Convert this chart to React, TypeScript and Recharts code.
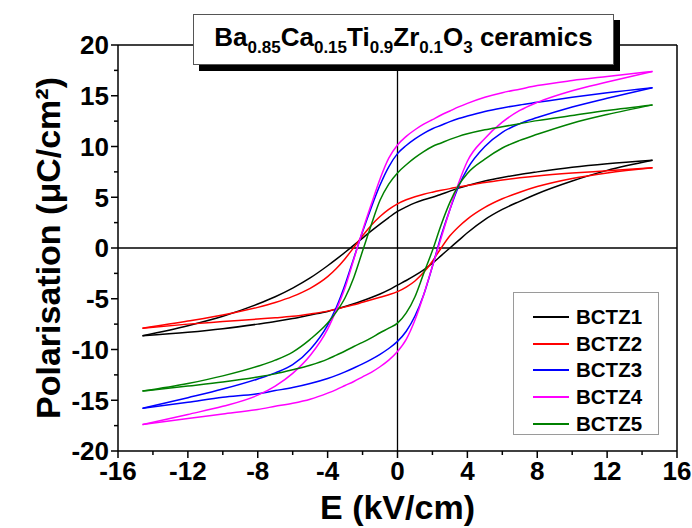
import React from "react";
import { LineChart, Line, XAxis, YAxis, ReferenceLine } from "recharts";

// electric field grid (kV/cm), shared by every branch
const FIELD = [
	-14.6, -12, -10, -8, -7, -6, -5, -4, -3.5, -3, -2.5, -2, -1.5, -1, -0.5, 0, 0.5, 1, 1.5, 2, 2.5, 3, 3.5, 4, 5, 6,
	7, 8, 10, 12, 14.6,
];

// polarisation (µC/cm²) on the descending-field (upper) and ascending-field (lower) branches
const BCTZ1_UPPER = [
	-8.65, -7.65, -6.72, -5.52, -4.8, -3.95, -2.95, -1.75, -1.1, -0.42, 0.28, 0.98, 1.68, 2.35, 3.0, 3.6, 4.05, 4.45,
	4.75, 5.0, 5.3, 5.6, 5.9, 6.15, 6.6, 6.95, 7.25, 7.5, 7.95, 8.3, 8.65,
];
const BCTZ1_LOWER = [
	-8.65, -8.3, -7.95, -7.5, -7.25, -6.95, -6.6, -6.25, -6.02, -5.77, -5.5, -5.2, -4.88, -4.53, -4.12, -3.65, -3.2,
	-2.7, -2.15, -1.5, -0.75, 0.0, 0.75, 1.5, 2.8, 3.8, 4.6, 5.35, 6.6, 7.65, 8.65,
];
const BCTZ2_UPPER = [
	-7.9, -7.2, -6.6, -5.85, -5.37, -4.77, -3.97, -2.82, -2.02, -1.05, 0.05, 1.2, 2.25, 3.1, 3.8, 4.35, 4.75, 5.05,
	5.3, 5.5, 5.68, 5.85, 6.0, 6.15, 6.45, 6.7, 6.92, 7.1, 7.38, 7.6, 7.9,
];
const BCTZ2_LOWER = [
	-7.9, -7.5, -7.25, -7.0, -6.88, -6.73, -6.5, -6.22, -6.02, -5.8, -5.6, -5.35, -5.1, -4.85, -4.6, -4.3, -3.85, -3.25,
	-2.4, -1.3, 0.0, 1.2, 2.1, 2.85, 4.0, 4.85, 5.5, 6.05, 6.85, 7.4, 7.9,
];
const BCTZ3_UPPER = [
	-15.8, -14.75, -13.9, -12.9, -12.3, -11.5, -10.0, -7.6, -5.85, -3.6, -1.0, 1.6, 4.0, 6.2, 8.0, 9.3, 10.1, 10.75,
	11.3, 11.75, 12.1, 12.45, 12.75, 13.0, 13.45, 13.8, 14.1, 14.35, 14.85, 15.3, 15.8,
];
const BCTZ3_LOWER = [
	-15.8, -15.2, -14.7, -14.35, -14.05, -13.75, -13.35, -12.85, -12.55, -12.2, -11.82, -11.42, -10.97, -10.47, -9.9,
	-9.2, -8.2, -6.7, -4.6, -1.8, 1.2, 3.8, 6.1, 7.8, 10.0, 11.4, 12.25, 12.85, 13.9, 14.75, 15.8,
];
const BCTZ4_UPPER = [
	-17.4, -16.4, -15.6, -14.5, -13.6, -12.35, -10.6, -8.0, -6.1, -3.9, -1.1, 1.7, 4.3, 6.8, 8.85, 10.15, 11.0, 11.65,
	12.2, 12.65, 13.1, 13.5, 13.9, 14.25, 14.85, 15.3, 15.65, 16.0, 16.5, 16.9, 17.4,
];
const BCTZ4_LOWER = [
	-17.4, -16.8, -16.35, -15.9, -15.6, -15.3, -14.9, -14.3, -13.95, -13.55, -13.15, -12.7, -12.25, -11.7, -11.05,
	-10.2, -9.0, -7.1, -4.6, -1.8, 1.0, 3.8, 6.4, 8.55, 10.8, 12.4, 13.55, 14.35, 15.5, 16.35, 17.4,
];
const BCTZ5_UPPER = [
	-14.1, -13.35, -12.6, -11.65, -11.05, -10.25, -9.0, -7.4, -6.3, -4.9, -2.9, -0.3, 2.3, 4.7, 6.3, 7.4, 8.2, 8.9,
	9.5, 10.0, 10.35, 10.7, 11.0, 11.25, 11.65, 11.95, 12.25, 12.55, 13.05, 13.55, 14.1,
];
const BCTZ5_LOWER = [
	-14.1, -13.6, -13.2, -12.7, -12.4, -12.0, -11.55, -10.95, -10.55, -10.15, -9.7, -9.3, -8.85, -8.35, -7.9, -7.4,
	-6.4, -4.8, -2.5, -0.25, 2.3, 4.5, 6.2, 7.35, 8.75, 9.85, 10.6, 11.2, 12.3, 13.15, 14.1,
];

// every tick position; labelled ones are multiples of 4 (x) and 5 (y)
const X_TICKS = [-16, -14, -12, -10, -8, -6, -4, -2, 0, 2, 4, 6, 8, 10, 12, 14, 16];
const Y_TICKS = [-20, -17.5, -15, -12.5, -10, -7.5, -5, -2.5, 0, 2.5, 5, 7.5, 10, 12.5, 15, 17.5, 20];

type Sample = { name: string; color: string; upper: number[]; lower: number[] };

const SAMPLES: Sample[] = [
	{ name: "BCTZ1", color: "#000000", upper: BCTZ1_UPPER, lower: BCTZ1_LOWER },
	{ name: "BCTZ2", color: "#ff0000", upper: BCTZ2_UPPER, lower: BCTZ2_LOWER },
	{ name: "BCTZ3", color: "#0000ff", upper: BCTZ3_UPPER, lower: BCTZ3_LOWER },
	{ name: "BCTZ4", color: "#ff00ff", upper: BCTZ4_UPPER, lower: BCTZ4_LOWER },
	{ name: "BCTZ5", color: "#008000", upper: BCTZ5_UPPER, lower: BCTZ5_LOWER },
];

const FONT = "'Liberation Sans', Arial, Helvetica, sans-serif";
const W = 692;
const H = 528;
const MARGIN = { top: 45, right: 15, bottom: 37, left: 58 };
const Y_AXIS_W = 60;
const X_AXIS_H = 40;
const PLOT_LEFT = MARGIN.left + Y_AXIS_W;
const PLOT_BOTTOM = H - MARGIN.bottom - X_AXIS_H;
const PLOT_CX = (PLOT_LEFT + W - MARGIN.right) / 2;
const PLOT_CY = (MARGIN.top + PLOT_BOTTOM) / 2;

function branch(values: number[]) {
	return FIELD.map((e, i) => ({ e, p: values[i] }));
}

function XTick({ x, y, payload }: any) {
	const major = payload.value % 4 === 0;
	return (
		<g>
			<line x1={x} x2={x} y1={y} y2={y + (major ? 7 : 4)} stroke="#000" strokeWidth={1.5} />
			{major && (
				<text x={x} y={y + 9} dy="0.78em" textAnchor="middle" fontSize={26} fontWeight={700} fontFamily={FONT} fill="#000">
					{payload.value}
				</text>
			)}
		</g>
	);
}

function YTick({ x, y, payload }: any) {
	const major = payload.value % 5 === 0;
	return (
		<g>
			<line x1={x - (major ? 7 : 4)} x2={x} y1={y} y2={y} stroke="#000" strokeWidth={1.5} />
			{major && (
				<text x={x - 9} y={y} dy="0.36em" textAnchor="end" fontSize={26} fontWeight={700} fontFamily={FONT} fill="#000">
					{payload.value}
				</text>
			)}
		</g>
	);
}

function LegendBox() {
	return (
		<div
			style={{
				position: "absolute",
				left: 513,
				top: 292,
				width: 146,
				height: 143,
				border: "1px solid #9a9a9a",
				background: "#fff",
				boxSizing: "border-box",
				paddingTop: 11,
				fontFamily: FONT,
			}}
		>
			{SAMPLES.map((s) => (
				<div key={s.name} style={{ display: "flex", alignItems: "center", height: 26.6 }}>
					<div style={{ marginLeft: 19, width: 36, height: 2, background: s.color }} />
					<span style={{ marginLeft: 7, fontSize: 20.5, fontWeight: 700, color: "#000" }}>{s.name}</span>
				</div>
			))}
		</div>
	);
}

function TitleBox() {
	const sub = { fontSize: 17, verticalAlign: "-7px" };
	return (
		<div
			style={{
				position: "absolute",
				left: 193,
				top: 14,
				width: 421,
				height: 51,
				boxSizing: "border-box",
				border: "1px solid #555",
				background: "#fff",
				boxShadow: "6px 6px 0 #000",
				fontFamily: FONT,
				fontWeight: 700,
				fontSize: 26,
				lineHeight: "44px",
				textAlign: "center",
				whiteSpace: "nowrap",
			}}
		>
			Ba<span style={sub}>0.85</span>Ca<span style={sub}>0.15</span>Ti<span style={sub}>0.9</span>Zr
			<span style={sub}>0.1</span>O<span style={sub}>3</span> ceramics
		</div>
	);
}

export default function App() {
	return (
		<div style={{ position: "absolute", left: 0, top: 0, width: W, height: H, background: "#fff" }}>
			<LineChart width={W} height={H} margin={MARGIN}>
				<XAxis
					dataKey="e"
					type="number"
					domain={[-16, 16]}
					ticks={X_TICKS}
					interval={0}
					height={X_AXIS_H}
					tick={<XTick />}
					tickSize={0}
					tickMargin={0}
					tickLine={false}
					axisLine={{ stroke: "#000", strokeWidth: 1.5 }}
					allowDataOverflow
				/>
				<YAxis
					type="number"
					domain={[-20, 20]}
					ticks={Y_TICKS}
					interval={0}
					width={Y_AXIS_W}
					tick={<YTick />}
					tickSize={0}
					tickMargin={0}
					tickLine={false}
					axisLine={{ stroke: "#000", strokeWidth: 1.5 }}
					allowDataOverflow
				/>

				<ReferenceLine x={0} stroke="#000" strokeWidth={1.3} />
				<ReferenceLine y={0} stroke="#000" strokeWidth={1.3} />
				<ReferenceLine x={16} stroke="#000" strokeWidth={1.5} />
				<ReferenceLine y={20} stroke="#000" strokeWidth={1.5} />

				{SAMPLES.flatMap((s) => [
					<Line
						key={s.name + "-upper"}
						data={branch(s.upper)}
						dataKey="p"
						name={s.name}
						type="monotone"
						stroke={s.color}
						strokeWidth={1.5}
						dot={false}
						isAnimationActive={false}
					/>,
					<Line
						key={s.name + "-lower"}
						data={branch(s.lower)}
						dataKey="p"
						name={s.name}
						type="monotone"
						stroke={s.color}
						strokeWidth={1.5}
						dot={false}
						isAnimationActive={false}
					/>,
				])}
			</LineChart>

			<svg width={W} height={H} style={{ position: "absolute", left: 0, top: 0, pointerEvents: "none" }}>
				<text x={PLOT_CX} y={519} textAnchor="middle" fontSize={34} fontWeight={700} fontFamily={FONT} fill="#000">
					E (kV/cm)
				</text>
				<text
					x={60}
					y={PLOT_CY}
					transform={`rotate(-90 60 ${PLOT_CY})`}
					textAnchor="middle"
					fontSize={34}
					fontWeight={700}
					fontFamily={FONT}
					fill="#000"
				>
					Polarisation (μC/cm²)
				</text>
			</svg>
			<LegendBox />
			<TitleBox />
		</div>
	);
}
